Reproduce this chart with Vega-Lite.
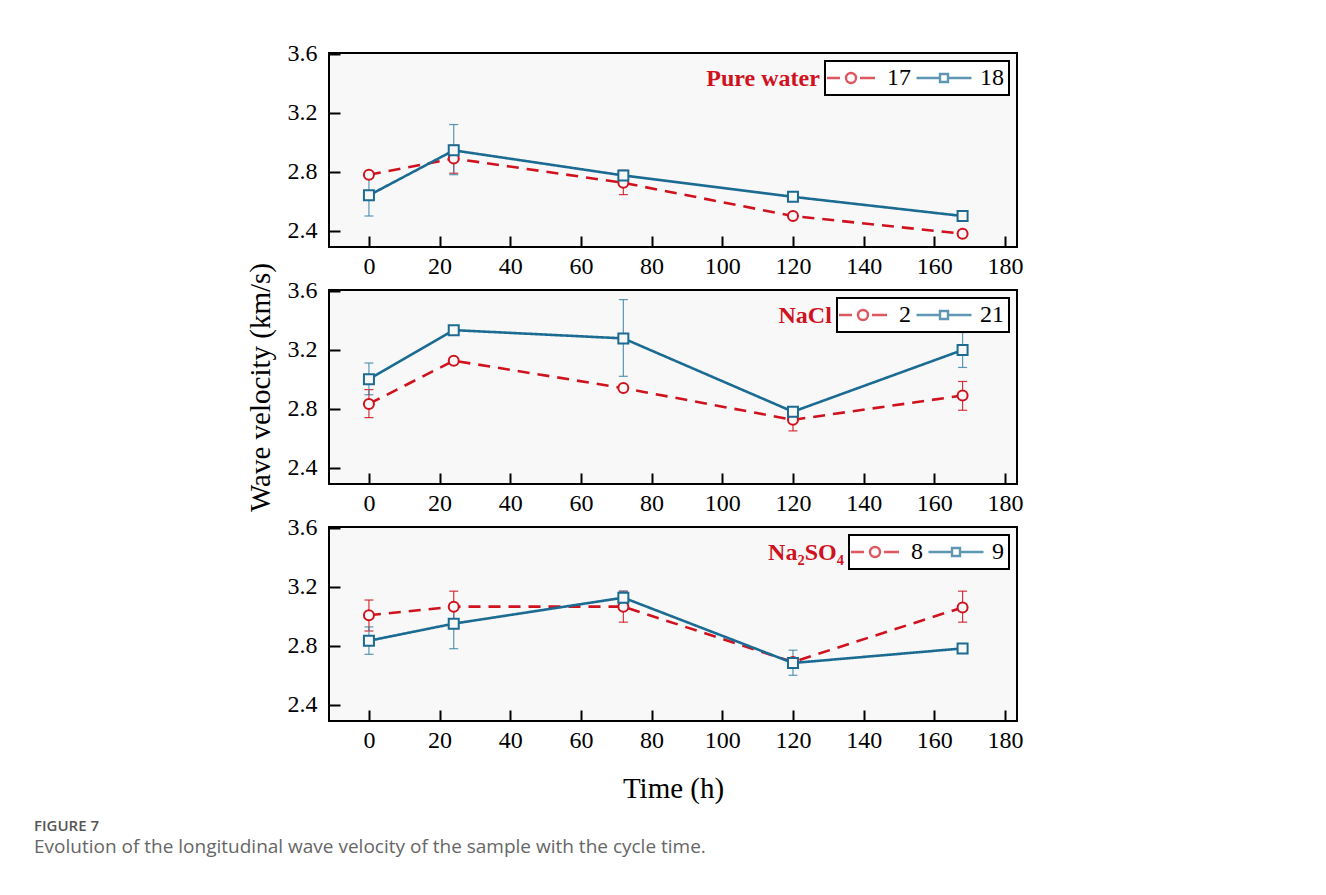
{
  "$schema": "https://vega.github.io/schema/vega-lite/v6.json",
  "background": "white",
  "padding": {"left": 34, "top": 40, "right": 10, "bottom": 10},
  "datasets": {
    "d": [
      {"p": "Pure water", "s": "17", "t": 0, "v": 2.78, "lo": null, "hi": null},
      {"p": "Pure water", "s": "17", "t": 24, "v": 2.89, "lo": 2.79, "hi": 2.98},
      {"p": "Pure water", "s": "17", "t": 72, "v": 2.725, "lo": 2.645, "hi": 2.81},
      {"p": "Pure water", "s": "17", "t": 120, "v": 2.5, "lo": null, "hi": null},
      {"p": "Pure water", "s": "17", "t": 168, "v": 2.38, "lo": null, "hi": null},
      {"p": "Pure water", "s": "18", "t": 0, "v": 2.64, "lo": 2.5, "hi": 2.775},
      {"p": "Pure water", "s": "18", "t": 24, "v": 2.945, "lo": 2.78, "hi": 3.12},
      {"p": "Pure water", "s": "18", "t": 72, "v": 2.775, "lo": 2.76, "hi": 2.79},
      {"p": "Pure water", "s": "18", "t": 120, "v": 2.63, "lo": null, "hi": null},
      {"p": "Pure water", "s": "18", "t": 168, "v": 2.5, "lo": null, "hi": null},
      {"p": "NaCl", "s": "2", "t": 0, "v": 2.833, "lo": 2.74, "hi": 2.93},
      {"p": "NaCl", "s": "2", "t": 24, "v": 3.126, "lo": null, "hi": null},
      {"p": "NaCl", "s": "2", "t": 72, "v": 2.94, "lo": 2.93, "hi": 2.95},
      {"p": "NaCl", "s": "2", "t": 120, "v": 2.725, "lo": 2.65, "hi": 2.77},
      {"p": "NaCl", "s": "2", "t": 168, "v": 2.89, "lo": 2.79, "hi": 2.985},
      {"p": "NaCl", "s": "21", "t": 0, "v": 3.0, "lo": 2.895, "hi": 3.11},
      {"p": "NaCl", "s": "21", "t": 24, "v": 3.333, "lo": null, "hi": null},
      {"p": "NaCl", "s": "21", "t": 72, "v": 3.277, "lo": 3.02, "hi": 3.54},
      {"p": "NaCl", "s": "21", "t": 120, "v": 2.78, "lo": 2.76, "hi": 2.795},
      {"p": "NaCl", "s": "21", "t": 168, "v": 3.198, "lo": 3.08, "hi": 3.317},
      {"p": "Na2SO4", "s": "8", "t": 0, "v": 3.007, "lo": 2.9, "hi": 3.11},
      {"p": "Na2SO4", "s": "8", "t": 24, "v": 3.065, "lo": 2.96, "hi": 3.17},
      {"p": "Na2SO4", "s": "8", "t": 72, "v": 3.065, "lo": 2.96, "hi": 3.17},
      {"p": "Na2SO4", "s": "8", "t": 120, "v": 2.69, "lo": null, "hi": null},
      {"p": "Na2SO4", "s": "8", "t": 168, "v": 3.06, "lo": 2.96, "hi": 3.17},
      {"p": "Na2SO4", "s": "9", "t": 0, "v": 2.834, "lo": 2.742, "hi": 2.928},
      {"p": "Na2SO4", "s": "9", "t": 24, "v": 2.95, "lo": 2.78, "hi": 3.07},
      {"p": "Na2SO4", "s": "9", "t": 72, "v": 3.126, "lo": 3.09, "hi": 3.17},
      {"p": "Na2SO4", "s": "9", "t": 120, "v": 2.683, "lo": 2.6, "hi": 2.77},
      {"p": "Na2SO4", "s": "9", "t": 168, "v": 2.782, "lo": null, "hi": null}
    ]
  },
  "title": {
    "text": "FIGURE 7",
    "subtitle": "Evolution of the longitudinal wave velocity of the sample with the cycle time.",
    "orient": "bottom",
    "anchor": "start",
    "frame": "bounds",
    "dx": -211,
    "offset": 15,
    "font": "Open Sans",
    "fontSize": 15,
    "fontWeight": 600,
    "color": "#555555",
    "subtitleFont": "Open Sans",
    "subtitleFontSize": 19,
    "subtitleColor": "#666666",
    "subtitlePadding": 4
  },
  "bounds": "flush",
  "spacing": 43,
  "vconcat": [
    {
      "width": 688, "height": 194,
      "data": {"name": "d"},
      "resolve": {"scale": {"color": "independent", "shape": "independent"}},
      "layer": [
        {
          "transform": [{"filter": "datum.p === 'Pure water' && datum.lo != null"}],
          "mark": {"type": "errorbar", "ticks": {"size": 9, "thickness": 1.2}, "rule": {"strokeWidth": 1.2}, "opacity": 0.85},
          "encoding": {
            "x": {"field": "t", "type": "quantitative", "scale": {"domain": [-11.3, 183.4], "nice": false, "zero": false}, "axis": {"title": null, "values": [0, 20, 40, 60, 80, 100, 120, 140, 160, 180]}},
            "y": {"field": "lo", "type": "quantitative", "scale": {"domain": [2.29, 3.605], "nice": false, "zero": false}, "axis": {"title": null, "values": [2.4, 2.8, 3.2, 3.6], "format": ".1f"}},
            "y2": {"field": "hi"},
            "color": {"field": "s", "type": "nominal", "scale": {"domain": ["17", "18"], "range": ["#d0121e", "#3d86a8"]}, "legend": null}
          }
        },
        {
          "transform": [{"filter": "datum.p === 'Pure water'"}],
          "mark": {"type": "line", "strokeWidth": 2.6},
          "encoding": {
            "x": {"field": "t", "type": "quantitative", "axis": {"title": null}},
            "y": {"field": "v", "type": "quantitative", "axis": {"title": null}},
            "color": {"field": "s", "type": "nominal", "scale": {"domain": ["17", "18"], "range": ["#d0121e", "#1b6b93"]}, "legend": null},
            "strokeDash": {"field": "s", "type": "nominal", "scale": {"domain": ["17", "18"], "range": [[12, 8], [1, 0]]}, "legend": null}
          }
        },
        {
          "transform": [{"filter": "datum.p === 'Pure water'"}],
          "mark": {"type": "point", "filled": false, "fill": "#f8f8f8", "fillOpacity": 1, "opacity": 1, "strokeWidth": 2, "size": 100},
          "encoding": {
            "x": {"field": "t", "type": "quantitative", "axis": {"title": null}},
            "y": {"field": "v", "type": "quantitative", "axis": {"title": null}},
            "color": {"field": "s", "type": "nominal", "scale": {"domain": ["17", "18"], "range": ["#d0121e", "#1b6b93"]}, "legend": null},
            "shape": {"field": "s", "type": "nominal", "scale": {"domain": ["17", "18"], "range": ["circle", "square"]}, "legend": null}
          }
        },
        {
          "transform": [{"filter": "datum.t < -1000"}],
          "mark": {"type": "point", "filled": false, "strokeWidth": 2},
          "encoding": {
            "x": {"field": "t", "type": "quantitative", "axis": {"title": null}},
            "y": {"field": "v", "type": "quantitative", "axis": {"title": null}},
            "color": {"field": "s", "type": "nominal", "scale": {"domain": ["17", "18"], "range": ["#d0121e", "#1b6b93"]}, "legend": {"title": null}},
            "shape": {"field": "s", "type": "nominal", "scale": {"domain": ["17", "18"], "range": ["M-2.4,0H-1.1M0.5,0A0.5,0.5,0,1,0,-0.5,0A0.5,0.5,0,1,0,0.5,0M0.9,0H2.4", "M-2.75,0H-0.4M-0.4,-0.4H0.4V0.4H-0.4ZM0.4,0H2.75"]}, "legend": {"title": null}}
          }
        },
        {
          "data": {"values": [{"name": "Pure water"}]},
          "mark": {"type": "text", "align": "right", "baseline": "middle", "font": "Liberation Serif", "fontSize": 24, "fontWeight": "bold", "fill": "#d0121e"},
          "encoding": {"x": {"datum": 127.6}, "y": {"datum": 3.43}, "text": {"field": "name"}}
        }
      ]
    },
    {
      "width": 688, "height": 194,
      "data": {"name": "d"},
      "resolve": {"scale": {"color": "independent", "shape": "independent"}},
      "layer": [
        {
          "transform": [{"filter": "datum.p === 'NaCl' && datum.lo != null"}],
          "mark": {"type": "errorbar", "ticks": {"size": 9, "thickness": 1.2}, "rule": {"strokeWidth": 1.2}, "opacity": 0.85},
          "encoding": {
            "x": {"field": "t", "type": "quantitative", "scale": {"domain": [-11.3, 183.4], "nice": false, "zero": false}, "axis": {"title": null, "values": [0, 20, 40, 60, 80, 100, 120, 140, 160, 180]}},
            "y": {"field": "lo", "type": "quantitative", "scale": {"domain": [2.29, 3.605], "nice": false, "zero": false}, "axis": {"title": "Wave velocity (km/s)", "values": [2.4, 2.8, 3.2, 3.6], "format": ".1f"}},
            "y2": {"field": "hi"},
            "color": {"field": "s", "type": "nominal", "scale": {"domain": ["2", "21"], "range": ["#d0121e", "#3d86a8"]}, "legend": null}
          }
        },
        {
          "transform": [{"filter": "datum.p === 'NaCl'"}],
          "mark": {"type": "line", "strokeWidth": 2.6},
          "encoding": {
            "x": {"field": "t", "type": "quantitative", "axis": {"title": null}},
            "y": {"field": "v", "type": "quantitative", "axis": {"title": "Wave velocity (km/s)"}},
            "color": {"field": "s", "type": "nominal", "scale": {"domain": ["2", "21"], "range": ["#d0121e", "#1b6b93"]}, "legend": null},
            "strokeDash": {"field": "s", "type": "nominal", "scale": {"domain": ["2", "21"], "range": [[12, 8], [1, 0]]}, "legend": null}
          }
        },
        {
          "transform": [{"filter": "datum.p === 'NaCl'"}],
          "mark": {"type": "point", "filled": false, "fill": "#f8f8f8", "fillOpacity": 1, "opacity": 1, "strokeWidth": 2, "size": 100},
          "encoding": {
            "x": {"field": "t", "type": "quantitative", "axis": {"title": null}},
            "y": {"field": "v", "type": "quantitative", "axis": {"title": "Wave velocity (km/s)"}},
            "color": {"field": "s", "type": "nominal", "scale": {"domain": ["2", "21"], "range": ["#d0121e", "#1b6b93"]}, "legend": null},
            "shape": {"field": "s", "type": "nominal", "scale": {"domain": ["2", "21"], "range": ["circle", "square"]}, "legend": null}
          }
        },
        {
          "transform": [{"filter": "datum.t < -1000"}],
          "mark": {"type": "point", "filled": false, "strokeWidth": 2},
          "encoding": {
            "x": {"field": "t", "type": "quantitative", "axis": {"title": null}},
            "y": {"field": "v", "type": "quantitative", "axis": {"title": "Wave velocity (km/s)"}},
            "color": {"field": "s", "type": "nominal", "scale": {"domain": ["2", "21"], "range": ["#d0121e", "#1b6b93"]}, "legend": {"title": null}},
            "shape": {"field": "s", "type": "nominal", "scale": {"domain": ["2", "21"], "range": ["M-2.4,0H-1.1M0.5,0A0.5,0.5,0,1,0,-0.5,0A0.5,0.5,0,1,0,0.5,0M0.9,0H2.4", "M-2.75,0H-0.4M-0.4,-0.4H0.4V0.4H-0.4ZM0.4,0H2.75"]}, "legend": {"title": null}}
          }
        },
        {
          "data": {"values": [{"name": "NaCl"}]},
          "mark": {"type": "text", "align": "right", "baseline": "middle", "font": "Liberation Serif", "fontSize": 24, "fontWeight": "bold", "fill": "#d0121e"},
          "encoding": {"x": {"datum": 131.0}, "y": {"datum": 3.43}, "text": {"field": "name"}}
        }
      ]
    },
    {
      "width": 688, "height": 194,
      "data": {"name": "d"},
      "resolve": {"scale": {"color": "independent", "shape": "independent"}},
      "layer": [
        {
          "transform": [{"filter": "datum.p === 'Na2SO4' && datum.lo != null"}],
          "mark": {"type": "errorbar", "ticks": {"size": 9, "thickness": 1.2}, "rule": {"strokeWidth": 1.2}, "opacity": 0.85},
          "encoding": {
            "x": {"field": "t", "type": "quantitative", "scale": {"domain": [-11.3, 183.4], "nice": false, "zero": false}, "axis": {"title": "Time (h)", "values": [0, 20, 40, 60, 80, 100, 120, 140, 160, 180]}},
            "y": {"field": "lo", "type": "quantitative", "scale": {"domain": [2.29, 3.605], "nice": false, "zero": false}, "axis": {"title": null, "values": [2.4, 2.8, 3.2, 3.6], "format": ".1f"}},
            "y2": {"field": "hi"},
            "color": {"field": "s", "type": "nominal", "scale": {"domain": ["8", "9"], "range": ["#d0121e", "#3d86a8"]}, "legend": null}
          }
        },
        {
          "transform": [{"filter": "datum.p === 'Na2SO4'"}],
          "mark": {"type": "line", "strokeWidth": 2.6},
          "encoding": {
            "x": {"field": "t", "type": "quantitative", "axis": {"title": "Time (h)"}},
            "y": {"field": "v", "type": "quantitative", "axis": {"title": null}},
            "color": {"field": "s", "type": "nominal", "scale": {"domain": ["8", "9"], "range": ["#d0121e", "#1b6b93"]}, "legend": null},
            "strokeDash": {"field": "s", "type": "nominal", "scale": {"domain": ["8", "9"], "range": [[12, 8], [1, 0]]}, "legend": null}
          }
        },
        {
          "transform": [{"filter": "datum.p === 'Na2SO4'"}],
          "mark": {"type": "point", "filled": false, "fill": "#f8f8f8", "fillOpacity": 1, "opacity": 1, "strokeWidth": 2, "size": 100},
          "encoding": {
            "x": {"field": "t", "type": "quantitative", "axis": {"title": "Time (h)"}},
            "y": {"field": "v", "type": "quantitative", "axis": {"title": null}},
            "color": {"field": "s", "type": "nominal", "scale": {"domain": ["8", "9"], "range": ["#d0121e", "#1b6b93"]}, "legend": null},
            "shape": {"field": "s", "type": "nominal", "scale": {"domain": ["8", "9"], "range": ["circle", "square"]}, "legend": null}
          }
        },
        {
          "transform": [{"filter": "datum.t < -1000"}],
          "mark": {"type": "point", "filled": false, "strokeWidth": 2},
          "encoding": {
            "x": {"field": "t", "type": "quantitative", "axis": {"title": "Time (h)"}},
            "y": {"field": "v", "type": "quantitative", "axis": {"title": null}},
            "color": {"field": "s", "type": "nominal", "scale": {"domain": ["8", "9"], "range": ["#d0121e", "#1b6b93"]}, "legend": {"title": null}},
            "shape": {"field": "s", "type": "nominal", "scale": {"domain": ["8", "9"], "range": ["M-2.4,0H-1.1M0.5,0A0.5,0.5,0,1,0,-0.5,0A0.5,0.5,0,1,0,0.5,0M0.9,0H2.4", "M-2.75,0H-0.4M-0.4,-0.4H0.4V0.4H-0.4ZM0.4,0H2.75"]}, "legend": {"title": null}}
          }
        },
        {
          "data": {"values": [{"name": "Na₂SO₄"}]},
          "mark": {"type": "text", "align": "right", "baseline": "middle", "font": "Liberation Serif", "fontSize": 24, "fontWeight": "bold", "fill": "#d0121e"},
          "encoding": {"x": {"datum": 134.4}, "y": {"datum": 3.43}, "text": {"field": "name"}}
        }
      ]
    }
  ],
  "config": {
    "view": {"stroke": "black", "strokeWidth": 2, "fill": "#f8f8f8"},
    "axis": {
      "domain": false, "grid": false,
      "ticks": true, "tickColor": "black", "tickWidth": 2, "tickSize": -11,
      "labelFont": "Liberation Serif", "labelFontSize": 24, "labelColor": "black",
      "titleFont": "Liberation Serif", "titleFontSize": 29, "titleFontWeight": "normal", "titleColor": "black"
    },
    "axisX": {"titlePadding": 22, "labelPadding": 18, "labelFont": "Liberation Serif", "labelFontSize": 24},
    "axisY": {"titlePadding": 12, "labelPadding": 23, "labelFont": "Liberation Serif", "labelFontSize": 24},
    "legend": {
      "orient": "top-right", "direction": "horizontal", "offset": 8,
      "labelFont": "Liberation Serif", "labelFontSize": 24, "labelColor": "black",
      "symbolSize": 400, "symbolStrokeWidth": 2.4, "symbolOffset": 9, "labelOffset": 24,
      "strokeColor": "black", "strokeWidth": 2, "fillColor": "white", "padding": 5, "columnPadding": 0
    }
  }
}
